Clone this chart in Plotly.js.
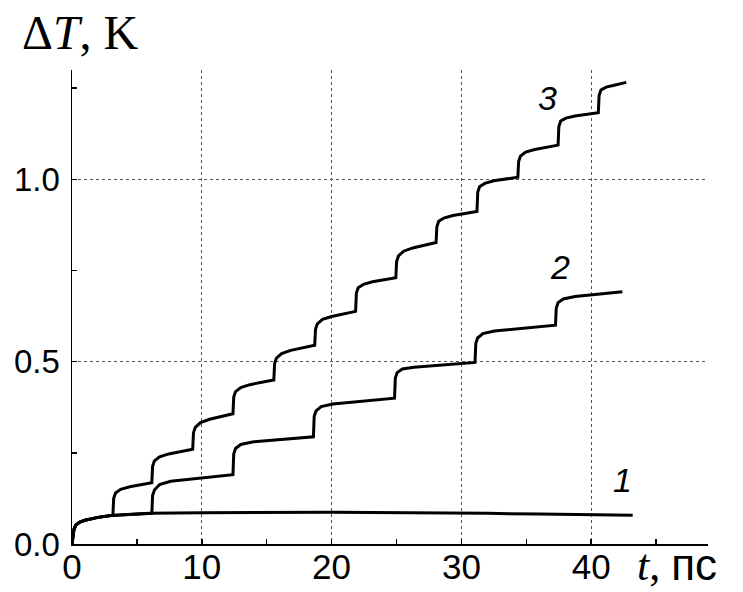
<!DOCTYPE html>
<html>
<head>
<meta charset="utf-8">
<script src="https://cdn.plot.ly/plotly-3.0.1.min.js"></script>
<style>
  html, body { margin: 0; padding: 0; background: #fff; }
  #chart { width: 743px; height: 592px; }
</style>
</head>
<body>
<div id="chart"></div>
<script>
// Temperature rise ΔT (K) versus time t (ps) for three regimes.

// Curve 1: single heating pulse, slow saturation
const t1 = [0, 0.05, 0.15, 0.3, 0.6, 1, 2, 3, 4.5, 6, 8, 10, 20, 28, 32, 36, 40, 43.2];
const dT1 = [0, 0.02, 0.04, 0.052, 0.06, 0.065, 0.073, 0.078, 0.081, 0.084, 0.085, 0.086, 0.087, 0.086, 0.084, 0.082, 0.080, 0.079];

// Curve 2: pulses every ~6.2 ps
const t2 = [0, 0.05, 0.15, 0.3, 0.6, 1, 2, 3, 4.5, 6.15,
  6.21, 6.35, 6.75, 7.6, 12.40,
  12.46, 12.60, 13.0, 13.9, 18.60,
  18.66, 18.80, 19.2, 20.1, 24.85,
  24.91, 25.05, 25.45, 26.35, 31.05,
  31.11, 31.25, 31.65, 32.55, 37.25,
  37.31, 37.45, 37.85, 38.75, 42.40];
const dT2 = [0, 0.02, 0.04, 0.052, 0.06, 0.065, 0.073, 0.078, 0.081, 0.084,
  0.133, 0.148, 0.163, 0.172, 0.190,
  0.247, 0.262, 0.273, 0.280, 0.294,
  0.350, 0.365, 0.377, 0.384, 0.400,
  0.455, 0.470, 0.480, 0.485, 0.498,
  0.550, 0.565, 0.577, 0.584, 0.600,
  0.647, 0.662, 0.672, 0.679, 0.692];

// Curve 3: pulses every ~3.1 ps
const t3 = [0, 0.05, 0.15, 0.3, 0.6, 1, 2, 3.15,
  3.21, 3.35, 3.75, 4.45, 6.15,
  6.21, 6.35, 6.75, 7.45, 9.30,
  9.36, 9.50, 9.90, 10.6, 12.40,
  12.46, 12.60, 13.0, 13.7, 15.55,
  15.61, 15.75, 16.15, 16.85, 18.70,
  18.76, 18.90, 19.3, 20.0, 21.85,
  21.91, 22.05, 22.45, 23.15, 24.95,
  25.01, 25.15, 25.55, 26.25, 28.05,
  28.11, 28.25, 28.65, 29.35, 31.20,
  31.26, 31.40, 31.8, 32.5, 34.35,
  34.41, 34.55, 34.95, 35.65, 37.45,
  37.51, 37.65, 38.05, 38.75, 40.55,
  40.61, 40.75, 41.15, 41.85, 42.70];
const dT3 = [0, 0.02, 0.04, 0.052, 0.06, 0.065, 0.073, 0.079,
  0.125, 0.140, 0.150, 0.157, 0.168,
  0.213, 0.228, 0.239, 0.247, 0.260,
  0.305, 0.320, 0.333, 0.342, 0.357,
  0.403, 0.418, 0.429, 0.437, 0.450,
  0.495, 0.510, 0.522, 0.531, 0.545,
  0.589, 0.604, 0.616, 0.624, 0.638,
  0.688, 0.703, 0.712, 0.719, 0.730,
  0.775, 0.790, 0.803, 0.812, 0.827,
  0.870, 0.885, 0.894, 0.901, 0.912,
  0.965, 0.980, 0.989, 0.996, 1.006,
  1.049, 1.064, 1.075, 1.082, 1.094,
  1.145, 1.160, 1.168, 1.174, 1.183,
  1.230, 1.245, 1.253, 1.259, 1.266];

// Curve number labels and where they sit
const curveLabels = ['1', '2', '3'];
const labelX = [42.45, 37.6, 36.6];
const labelY = [0.175, 0.76, 1.223];

const lineStyle = { color: '#000', width: 3 };
const traces = [
  { x: t1, y: dT1, mode: 'lines', line: lineStyle, hoverinfo: 'skip' },
  { x: t2, y: dT2, mode: 'lines', line: lineStyle, hoverinfo: 'skip' },
  { x: t3, y: dT3, mode: 'lines', line: lineStyle, hoverinfo: 'skip' }
];

const annotations = curveLabels.map((s, i) => ({
  x: labelX[i], y: labelY[i], xref: 'x', yref: 'y',
  text: '<i>' + s + '</i>', showarrow: false,
  font: { family: 'Liberation Sans, Arial, sans-serif', size: 34, color: '#000' }
}));

annotations.push({
  xref: 'paper', yref: 'paper', x: -0.082, y: 1.080,
  xanchor: 'left', yanchor: 'middle', showarrow: false,
  text: 'Δ<i>T</i>, K',
  font: { family: 'Liberation Serif, Times New Roman, serif', size: 48, color: '#000' }
});
annotations.push({
  xref: 'paper', yref: 'paper', x: 0.886, y: -0.044,
  xanchor: 'left', yanchor: 'middle', showarrow: false,
  text: '<i>t</i>, <span style="font-family:Liberation Sans, Arial, sans-serif">пс</span>',
  font: { family: 'Liberation Serif, Times New Roman, serif', size: 44, color: '#000' }
});

const layout = {
  width: 743, height: 592,
  margin: { l: 72, r: 35, t: 70, b: 48 },
  paper_bgcolor: '#fff', plot_bgcolor: '#fff',
  showlegend: false,
  xaxis: {
    range: [0, 49], dtick: 10, tick0: 0,
    showline: true, linecolor: '#000', linewidth: 1.5,
    ticks: 'inside', ticklen: 5, tickwidth: 1.5, tickcolor: '#000',
    minor: { dtick: 5, ticks: 'inside', ticklen: 5, tickwidth: 1.5, tickcolor: '#000', showgrid: false },
    showgrid: true, gridcolor: '#555', gridwidth: 1, griddash: 'dot',
    zeroline: false,
    tickfont: { family: 'Liberation Sans, Arial, sans-serif', size: 35, color: '#000' },
    ticklabelstandoff: -9
  },
  yaxis: {
    range: [0, 1.3], dtick: 0.5, tick0: 0, tickformat: '.1f',
    showline: true, linecolor: '#000', linewidth: 1.5,
    ticks: 'inside', ticklen: 5, tickwidth: 1.5, tickcolor: '#000',
    minor: { dtick: 0.25, ticks: 'inside', ticklen: 5, tickwidth: 1.5, tickcolor: '#000', showgrid: false },
    showgrid: true, gridcolor: '#555', gridwidth: 1, griddash: 'dot',
    zeroline: false,
    tickfont: { family: 'Liberation Sans, Arial, sans-serif', size: 33, color: '#000' },
    ticklabelstandoff: 4
  },
  annotations: annotations
};

Plotly.newPlot('chart', traces, layout, { staticPlot: true, displayModeBar: false });
</script>
</body>
</html>
